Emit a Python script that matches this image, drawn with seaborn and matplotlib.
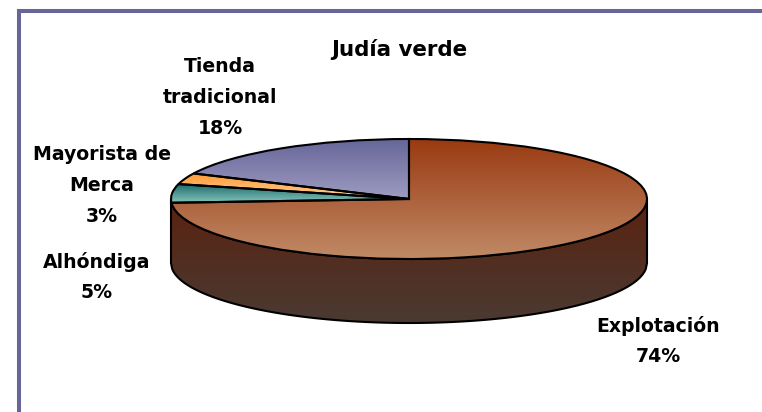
import numpy as np
import matplotlib
matplotlib.use("Agg")
import matplotlib.pyplot as plt
import seaborn as sns

title = "Judía verde"
categories = ["Explotación", "Alhóndiga", "Mayorista de\nMerca", "Tienda\ntradicional"]
values = [74, 5, 3, 18]

top_colors = ["#9a3a12", "#1c6c6c", "#ff9933", "#666699"]
bottom_colors = ["#c08a66", "#86c4bc", "#ffd09a", "#9e9cc2"]
wall_colors = ["#5a2210", "#4a3a32"]
frame_color = "#666699"

W, H = 762, 412
cx, cy, rx, ry, depth = 409, 199, 238, 60, 64

sns.set_theme(style="white")
plt.rcParams["font.family"] = ["DejaVu Sans"]

fig = plt.figure(figsize=(W / 100, H / 100), dpi=100, facecolor="white")

# frame, only top and left are visible in the picture
frame = fig.add_axes([19.3 / W, 0, 1, (H - 10.8) / H])
frame.set_xticks([])
frame.set_yticks([])
for side in ["right", "bottom"]:
    frame.spines[side].set_visible(False)
for side in ["left", "top"]:
    frame.spines[side].set_color(frame_color)
    frame.spines[side].set_linewidth(2.9)

ax = fig.add_axes([0, 0, 1, 1])
ax.patch.set_alpha(0)

wedges, _ = ax.pie(values, startangle=90, counterclock=False, radius=1,
                   wedgeprops={"edgecolor": "black", "linewidth": 1.5, "facecolor": "none"})
ax.set_aspect("auto")
grad = np.linspace(0, 1, 128).reshape(-1, 1)

# side wall of the 3d pie
x = np.linspace(-1, 1, 400)
y_top = -np.sqrt(1 - x ** 2)
d = depth / ry
wall_cmap = sns.blend_palette(wall_colors, n_colors=64, as_cmap=True)
wall = ax.fill_between(x, y_top, y_top - d, facecolor="none", edgecolor="black",
                       linewidth=1.5, zorder=3)
im = ax.imshow(grad, extent=(-1, 1, -1 - d, 0), cmap=wall_cmap, aspect="auto",
               origin="upper", zorder=2)
im.set_clip_path(wall.get_paths()[0], ax.transData)

# top face, each wedge has its own vertical gradient
for wedge, c0, c1 in zip(wedges, top_colors, bottom_colors):
    wedge.set_zorder(5)
    box = wedge.get_path().get_extents()
    cmap = sns.blend_palette([c0, c1], n_colors=64, as_cmap=True)
    im = ax.imshow(grad, extent=(box.x0, box.x1, box.y0, box.y1), cmap=cmap,
                   aspect="auto", origin="upper", zorder=4)
    im.set_clip_path(wedge.get_path(), ax.transData)

ax.set_xlim((0 - cx) / rx, (W - cx) / rx)
ax.set_ylim((cy - H) / ry, cy / ry)
ax.axis("off")

label_pos = [(658, 341), (97, 277), (102, 185.5), (220, 97.5)]
for name, val, (px, py) in zip(categories, values, label_pos):
    fig.text(px / W, 1 - py / H, f"{name}\n{val}%", ha="center", va="center",
             fontsize=13.6, fontweight="bold", linespacing=1.8, color="black")
fig.text(399 / W, 1 - 49 / H, title, ha="center", va="center", fontsize=15.4,
         fontweight="bold", color="black")

fig.savefig("out.png", dpi=100, facecolor="white")
